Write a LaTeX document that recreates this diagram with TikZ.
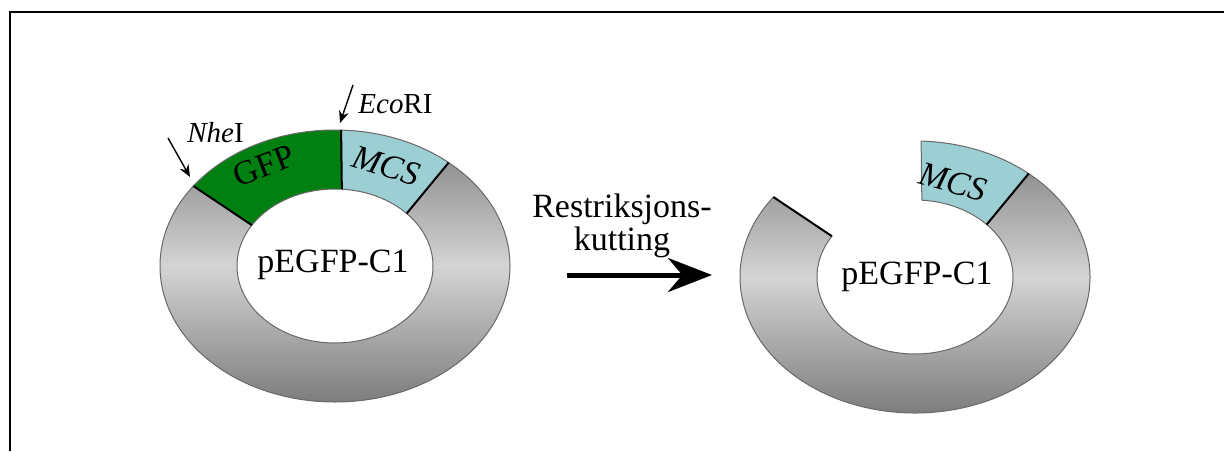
\documentclass[tikz,border=0pt]{standalone}
\usepackage{fontspec}
\setmainfont{Liberation Serif}
\usetikzlibrary{arrows.meta,calc}

\definecolor{gfpgreen}{RGB}{0,128,16}
\definecolor{mcsblue}{RGB}{156,207,211}
\definecolor{ringedge}{RGB}{105,105,105}
\definecolor{ringdark}{RGB}{125,125,125}
\definecolor{ringlight}{RGB}{212,212,212}

\tikzset{
  ringfill/.style={top color=ringdark, bottom color=ringdark, middle color=ringlight},
  ringline/.style={draw=ringedge, line width=0.5pt},
  cutline/.style={draw=black, line width=1pt},
  sitearrow/.style={-{Stealth[length=6pt,width=5pt]}, line width=0.7pt},
  cutarrow/.style={-{Stealth[length=22pt,width=17pt]}, line width=2.5pt},
  bigtext/.style={font=\fontsize{17pt}{20pt}\selectfont, inner sep=0pt},
  segtext/.style={font=\fontsize{17pt}{20pt}\selectfont, inner sep=0pt},
  sitetext/.style={font=\fontsize{14.5pt}{17pt}\selectfont, inner sep=0pt}
}

\begin{document}
\begin{tikzpicture}[x=0.5pt, y=0.5pt]
  \useasboundingbox (0,0) rectangle (1224,451);
  % frame
  \draw[line width=1.4pt] (10,0) -- (10,439) -- (1224,439);

  % plasmid before cutting
  \coordinate (lc) at (335,185);
  \shade[ringfill, even odd rule] (lc) ellipse [x radius=175, y radius=136] (lc) ellipse [x radius=98, y radius=77];
  \fill[gfpgreen] ($(lc)+(88:175 and 136)$) arc[start angle=88, end angle=144, x radius=175, y radius=136]
    -- ($(lc)+(148:98 and 77)$) arc[start angle=148, end angle=86, x radius=98, y radius=77] -- cycle;
  \fill[mcsblue] ($(lc)+(49.5:175 and 136)$) arc[start angle=49.5, end angle=88, x radius=175, y radius=136]
    -- ($(lc)+(86:98 and 77)$) arc[start angle=86, end angle=43, x radius=98, y radius=77] -- cycle;
  \draw[ringline] (lc) ellipse [x radius=175, y radius=136] (lc) ellipse [x radius=98, y radius=77];
  \draw[cutline] ($(lc)+(144:175 and 136)$) -- ($(lc)+(148:98 and 77)$);
  \draw[cutline] ($(lc)+(88:175 and 136)$) -- ($(lc)+(86:98 and 77)$);
  \draw[cutline] ($(lc)+(49.5:175 and 136)$) -- ($(lc)+(43:98 and 77)$);
  \node[segtext, rotate=21] (gfp) at (264,285) {GFP};
  \node[segtext, rotate=-17] (mcsa) at (386,285) {\textit{MCS}};
  \node[bigtext] (plasa) at (333,186) {pEGFP-C1};

  % restriction sites
  \node[sitetext, anchor=base west] (nhe) at (187,309) {\textit{Nhe}I};
  \node[sitetext, anchor=base west] (eco) at (358,338) {\textit{Eco}RI};
  \coordinate (nhetail) at (168,313);
  \coordinate (nhetip) at (190,274);
  \coordinate (ecotail) at (353,366);
  \coordinate (ecotip) at (340,328);
  \draw[sitearrow] (nhetail) -- (nhetip);
  \draw[sitearrow] (ecotail) -- (ecotip);

  % cutting step
  \node[bigtext, anchor=base] (restr) at (622,234) {Restriksjons-};
  \node[bigtext, anchor=base] (kutt) at (622,201) {kutting};
  \coordinate (cutfrom) at (567,176);
  \coordinate (cutto) at (712,176);
  \draw[cutarrow] (cutfrom) -- (cutto);

  % plasmid after cutting
  \coordinate (rc) at (915,174);
  \begin{scope}
    \clip ($(rc)+(144:175 and 136)$) arc[start angle=144, end angle=409.5, x radius=175, y radius=136]
      -- ($(rc)+(403:98 and 77)$) arc[start angle=403, end angle=148, x radius=98, y radius=77] -- cycle;
    \shade[ringfill, even odd rule] (rc) ellipse [x radius=175, y radius=136] (rc) ellipse [x radius=98, y radius=77];
  \end{scope}
  \draw[ringline] ($(rc)+(144:175 and 136)$) arc[start angle=144, end angle=409.5, x radius=175, y radius=136]
    -- ($(rc)+(403:98 and 77)$) arc[start angle=403, end angle=148, x radius=98, y radius=77] -- cycle;
  \filldraw[fill=mcsblue, ringline] ($(rc)+(49.5:175 and 136)$) arc[start angle=49.5, end angle=88, x radius=175, y radius=136]
    -- ($(rc)+(86:98 and 77)$) arc[start angle=86, end angle=43, x radius=98, y radius=77] -- cycle;
  \draw[cutline] ($(rc)+(144:175 and 136)$) -- ($(rc)+(148:98 and 77)$);
  \draw[cutline] ($(rc)+(49.5:175 and 136)$) -- ($(rc)+(43:98 and 77)$);
  \node[segtext, rotate=-15] (mcsb) at (953,269) {\textit{MCS}};
  \node[bigtext] (plasb) at (917,174) {pEGFP-C1};
\end{tikzpicture}
\end{document}
